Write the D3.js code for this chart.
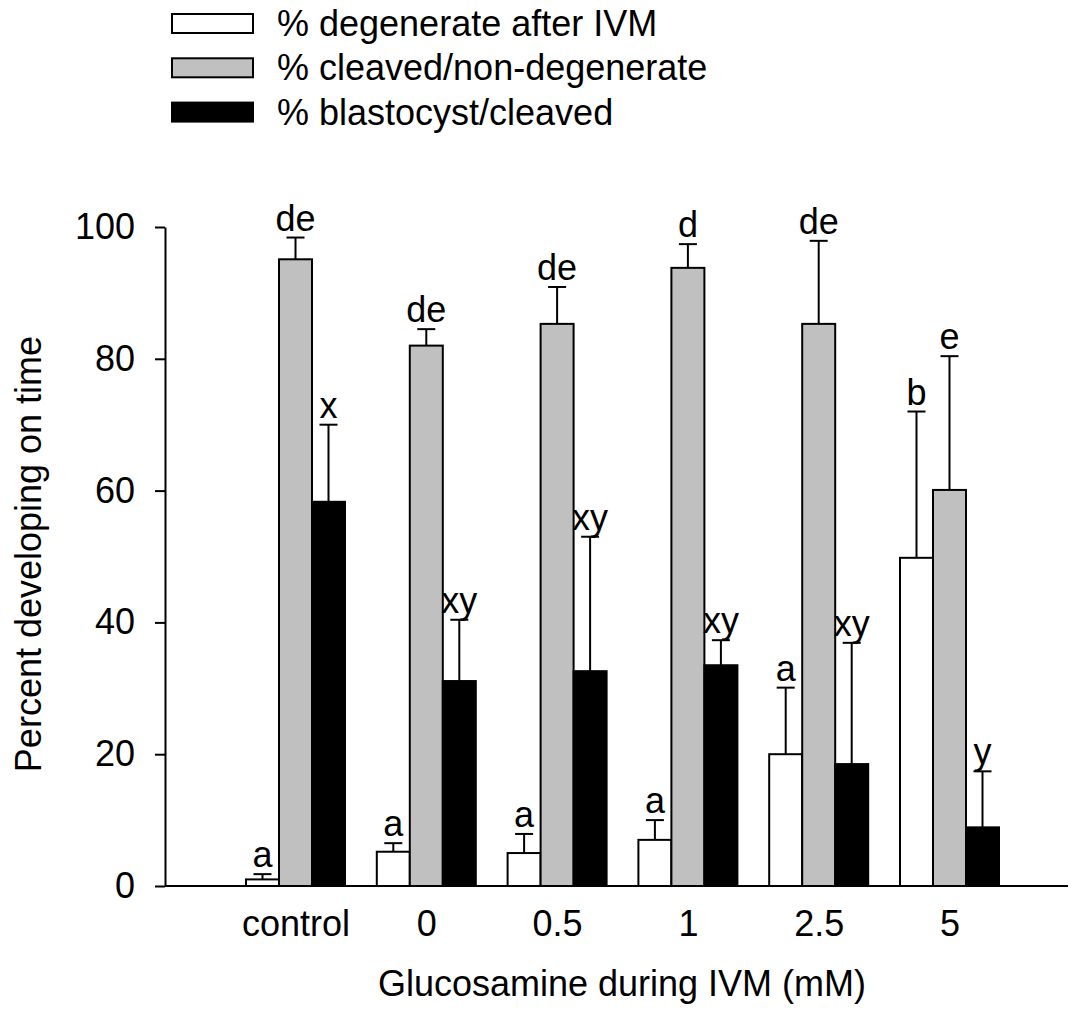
<!DOCTYPE html>
<html>
<head>
<meta charset="utf-8">
<script src="https://cdn.jsdelivr.net/npm/d3@7"></script>
<style>
  html, body { margin: 0; padding: 0; background: #fff; }
  svg { display: block; font-family: Arial, "Liberation Sans", sans-serif; }
</style>
</head>
<body>
<svg id="chart" width="1075" height="1011"></svg>
<script>
const categories = ["control", "0", "0.5", "1", "2.5", "5"];
const seriesNames = ["% degenerate after IVM", "% cleaved/non-degenerate", "% blastocyst/cleaved"];
const seriesColors = ["#ffffff", "#c0c0c0", "#000000"];
const degenerate = [1.0, 5.2, 5.0, 7.0, 20.0, 49.8];
const degenerateErr = [0.8, 1.3, 2.9, 3.0, 10.1, 22.2];
const cleaved = [95.1, 82.0, 85.3, 93.8, 85.3, 60.1];
const cleavedErr = [3.3, 2.5, 5.6, 3.6, 12.6, 20.3];
const blastocyst = [58.3, 31.1, 32.6, 33.5, 18.5, 8.9];
const blastocystErr = [11.7, 9.3, 20.4, 3.8, 18.4, 8.5];
const degenerateLetters = ["a", "a", "a", "a", "a", "b"];
const cleavedLetters = ["de", "de", "de", "d", "de", "e"];
const blastocystLetters = ["x", "xy", "xy", "xy", "xy", "y"];
const yTicks = [0, 20, 40, 60, 80, 100];
const yTitle = "Percent developing on time";
const xTitle = "Glucosamine during IVM (mM)";

const values = [degenerate, cleaved, blastocyst];
const errors = [degenerateErr, cleavedErr, blastocystErr];
const letters = [degenerateLetters, cleavedLetters, blastocystLetters];

const svg = d3.select("#chart");
const FS = 36;

const axisLeft = 165, axisRight = 1068, yBottom = 886, yTop = 227;
const y = d3.scaleLinear().domain([0, 100]).range([yBottom, yTop]);
// group centres
const x = d3.scalePoint().domain(categories).range([295.5, 949.5]);
const barW = 33;
const sub = d3.scaleBand().domain([0, 1, 2]).range([-1.5 * barW, 1.5 * barW]).padding(0);

// Y axis
const yAxis = d3.axisLeft(y).tickValues(yTicks).tickSize(10).tickPadding(20).tickSizeOuter(0);
const gy = svg.append("g").attr("transform", `translate(${axisLeft},0)`).call(yAxis);
gy.select(".domain").attr("stroke", "#000").attr("stroke-width", 2);
gy.selectAll(".tick line").attr("stroke", "#000").attr("stroke-width", 2);
gy.selectAll(".tick text").attr("font-size", FS).attr("fill", "#000")
  .attr("font-family", "Arial, 'Liberation Sans', sans-serif");

// X axis line + labels
const xAxis = d3.axisBottom(x).tickSize(0).tickPadding(24).tickSizeOuter(0);
const gx = svg.append("g").attr("transform", `translate(0,${yBottom})`).call(xAxis);
gx.select(".domain").remove();
gx.selectAll(".tick text").attr("font-size", FS).attr("fill", "#000")
  .attr("font-family", "Arial, 'Liberation Sans', sans-serif");
svg.append("line").attr("x1", axisLeft).attr("x2", axisRight)
  .attr("y1", yBottom).attr("y2", yBottom).attr("stroke", "#000").attr("stroke-width", 2);

// Bars, error bars, letters
const capW = 18;
values.forEach((vals, s) => {
  const g = svg.append("g");
  categories.forEach((c, i) => {
    const x0 = x(c) + sub(s);
    const cx = x0 + barW / 2;
    const top = y(vals[i] + errors[s][i]);
    g.append("line").attr("x1", cx).attr("x2", cx)
      .attr("y1", y(vals[i])).attr("y2", top)
      .attr("stroke", "#000").attr("stroke-width", 2);
    g.append("line").attr("x1", cx - capW / 2).attr("x2", cx + capW / 2)
      .attr("y1", top).attr("y2", top)
      .attr("stroke", "#000").attr("stroke-width", 2);
    g.append("rect").attr("x", x0).attr("y", y(vals[i]))
      .attr("width", barW).attr("height", yBottom - y(vals[i]))
      .attr("fill", seriesColors[s]).attr("stroke", "#000").attr("stroke-width", 2);
    g.append("text").attr("x", cx).attr("y", top - 7)
      .attr("text-anchor", "middle").attr("font-size", FS).attr("fill", "#000")
      .text(letters[s][i]);
  });
});

// Y title
svg.append("text").attr("transform", `translate(41,554) rotate(-90)`)
  .attr("text-anchor", "middle").attr("font-size", FS).attr("fill", "#000").text(yTitle);
// X title
svg.append("text").attr("x", 622).attr("y", 996)
  .attr("text-anchor", "middle").attr("font-size", FS).attr("fill", "#000").text(xTitle);

// Legend
const legend = svg.append("g");
seriesNames.forEach((name, s) => {
  const ly = 14 + s * 44.3;
  legend.append("rect").attr("x", 172).attr("y", ly).attr("width", 81).attr("height", 19)
    .attr("fill", seriesColors[s]).attr("stroke", "#000").attr("stroke-width", 2);
  legend.append("text").attr("x", 277).attr("y", ly + 22)
    .attr("font-size", FS).attr("fill", "#000").text(name);
});
</script>
</body>
</html>
